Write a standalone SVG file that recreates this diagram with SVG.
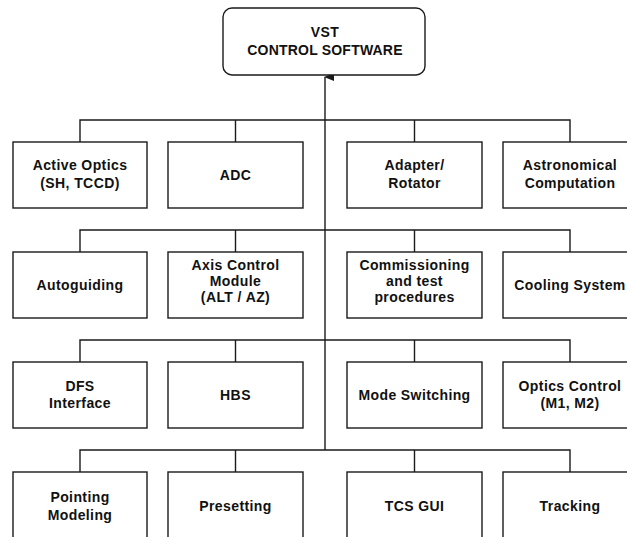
<svg xmlns="http://www.w3.org/2000/svg" width="627" height="537" viewBox="0 0 627 537">
<defs>
<style>
.box{fill:#fff;stroke:#1a1a1a;stroke-width:1.4}
.ln{fill:none;stroke:#1a1a1a;stroke-width:1.4}
text{font-family:"Liberation Sans",Arial,Helvetica,sans-serif;font-weight:bold;font-size:14px;fill:#111;text-anchor:middle;letter-spacing:0.4px}
</style>
<marker id="arr" markerWidth="8" markerHeight="10" refX="4" refY="1" orient="auto" markerUnits="userSpaceOnUse" viewBox="0 0 8 10">
<path d="M0,10 L4,0 L8,10 Z" fill="#1a1a1a"/>
</marker>
</defs>
<rect width="627" height="537" fill="#fff"/>
<g id="connectors">
<path class="ln" d="M325,450 V77" marker-end="url(#arr)"/>
<path class="ln" d="M80,142 V120 H570 V142 M235.5,120 V142 M414.5,120 V142"/>
<path class="ln" d="M80,252 V230 H570 V252 M235.5,230 V252 M414.5,230 V252"/>
<path class="ln" d="M80,362 V340 H570 V362 M235.5,340 V362 M414.5,340 V362"/>
<path class="ln" d="M80,472 V450 H570 V472 M235.5,450 V472 M414.5,450 V472"/>
</g>
<g id="root">
<rect class="box" x="223" y="8" width="202" height="67" rx="9"/>
<text x="325" y="37">VST</text>
<text x="325" y="55" style="letter-spacing:0.2px">CONTROL SOFTWARE</text>
</g>
<g id="active-optics"><rect class="box" x="13" y="142" width="134" height="66"/><text x="80" y="170">Active Optics</text><text x="80" y="188">(SH, TCCD)</text></g>
<g id="adc"><rect class="box" x="168" y="142" width="135" height="66"/><text x="235.5" y="180">ADC</text></g>
<g id="adapter-rotator"><rect class="box" x="347" y="142" width="135" height="66"/><text x="414.5" y="170">Adapter/</text><text x="414.5" y="188">Rotator</text></g>
<g id="astronomical-computation"><rect class="box" x="503" y="142" width="134" height="66"/><text x="570" y="170">Astronomical</text><text x="570" y="188">Computation</text></g>
<g id="autoguiding"><rect class="box" x="13" y="252" width="134" height="66"/><text x="80" y="290">Autoguiding</text></g>
<g id="axis-control"><rect class="box" x="168" y="252" width="135" height="66"/><text x="235.5" y="270">Axis Control</text><text x="235.5" y="286">Module</text><text x="235.5" y="302">(ALT / AZ)</text></g>
<g id="commissioning"><rect class="box" x="347" y="252" width="135" height="66"/><text x="414.5" y="270">Commissioning</text><text x="414.5" y="286">and test</text><text x="414.5" y="302">procedures</text></g>
<g id="cooling-system"><rect class="box" x="503" y="252" width="134" height="66"/><text x="570" y="290">Cooling System</text></g>
<g id="dfs-interface"><rect class="box" x="13" y="362" width="134" height="66"/><text x="80" y="391">DFS</text><text x="80" y="408">Interface</text></g>
<g id="hbs"><rect class="box" x="168" y="362" width="135" height="66"/><text x="235.5" y="400">HBS</text></g>
<g id="mode-switching"><rect class="box" x="347" y="362" width="135" height="66"/><text x="414.5" y="400">Mode Switching</text></g>
<g id="optics-control"><rect class="box" x="503" y="362" width="134" height="66"/><text x="570" y="391">Optics Control</text><text x="570" y="408">(M1, M2)</text></g>
<g id="pointing-modeling"><rect class="box" x="13" y="472" width="134" height="70"/><text x="80" y="502">Pointing</text><text x="80" y="520">Modeling</text></g>
<g id="presetting"><rect class="box" x="168" y="472" width="135" height="70"/><text x="235.5" y="511">Presetting</text></g>
<g id="tcs-gui"><rect class="box" x="347" y="472" width="135" height="70"/><text x="414.5" y="511">TCS GUI</text></g>
<g id="tracking"><rect class="box" x="503" y="472" width="134" height="70"/><text x="570" y="511">Tracking</text></g>
</svg>
